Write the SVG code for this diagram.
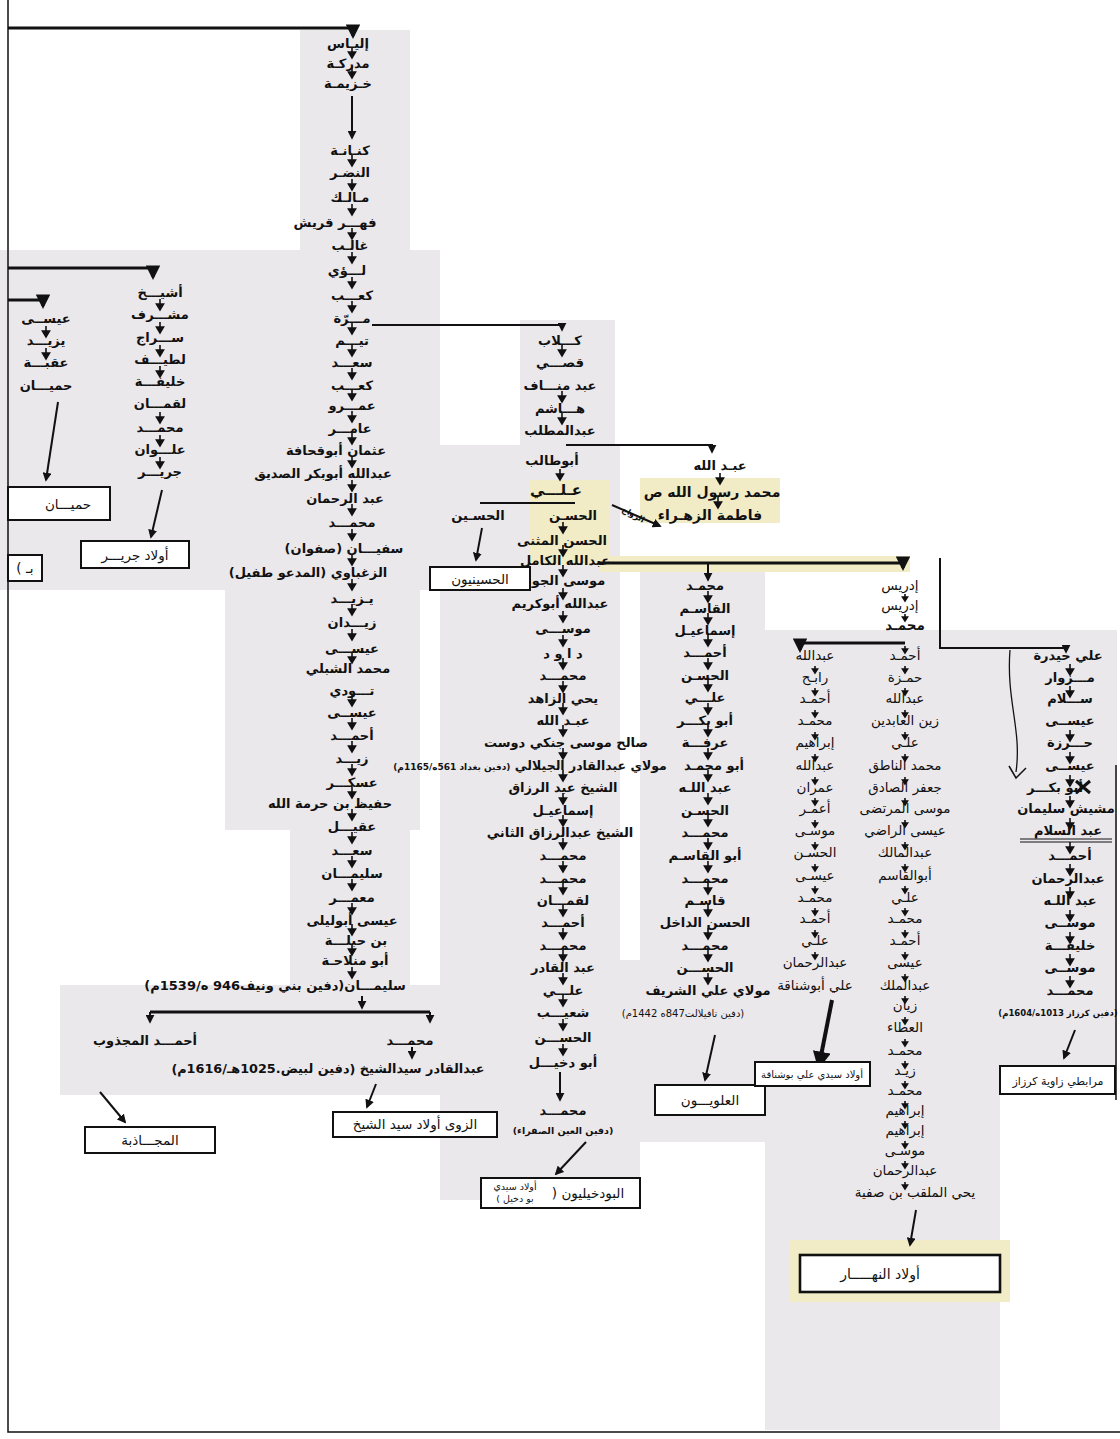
<svg xmlns="http://www.w3.org/2000/svg" xmlns:xlink="http://www.w3.org/1999/xlink" width="1120" height="1439" viewBox="0 0 1120 1439">
<style>
text{font-family:"DejaVu Sans","Noto Sans",sans-serif;fill:#111;text-anchor:middle;direction:rtl}
.b{font-size:13px;font-weight:bold}
.r{font-size:13.5px}
.sm{font-size:9.5px}
.box{fill:#fff;stroke:#111;stroke-width:2}
.ln{fill:none;stroke:#111;stroke-width:2}
.th{fill:none;stroke:#111;stroke-width:3.2}
.pg{fill:#ebe8ec}
.yl{fill:#f1ebc6}
.ch use{fill:#111;stroke:#111;stroke-width:1.6}
</style>
<defs>
<marker id="ah" viewBox="0 0 10 10" refX="8" refY="5" markerWidth="4.5" markerHeight="4.5" orient="auto"><path d="M0 0L10 5L0 10z" fill="#111"/></marker>
<path id="d" d="M0-6V0M-3.5-1L0 5L3.5-1z"/>
<path id="e" d="M0-4V0M-2.5-1L0 3L2.5-1z"/>
</defs>

<g id="paper">
<rect class="pg" x="300" y="30" width="110" height="225"/>
<rect class="pg" x="0" y="250" width="440" height="340"/>
<rect class="pg" x="225" y="590" width="195" height="240"/>
<rect class="pg" x="290" y="830" width="120" height="160"/>
<rect class="pg" x="60" y="985" width="440" height="110"/>
<rect class="pg" x="520" y="320" width="95" height="125"/>
<rect class="pg" x="440" y="445" width="180" height="515"/>
<rect class="pg" x="440" y="960" width="200" height="240"/>
<rect class="yl" x="530" y="480" width="80" height="85"/>
<rect class="yl" x="640" y="478" width="140" height="45"/>
<rect class="yl" x="600" y="556" width="310" height="16"/>
<rect class="pg" x="640" y="572" width="125" height="570"/>
<rect class="pg" x="765" y="630" width="235" height="800"/>
<rect class="pg" x="1000" y="630" width="117" height="440"/>
<rect class="yl" x="790" y="1240" width="220" height="62"/>
</g>

<g id="frame" fill="none" stroke="#111" stroke-width="1.5">
<path d="M8 0V1432H1120"/>
<path d="M1116 765V1100"/>
</g>

<g id="connectors">
<path class="th" d="M8 28H353V36" marker-end="url(#ah)"/>
<path class="ln" d="M352 96V138" marker-end="url(#ah)"/>
<path class="ln" d="M372 325H562V330" marker-end="url(#ah)"/>
<path class="th" d="M8 268H153V277" marker-end="url(#ah)"/>
<path class="th" d="M8 300H43V306" marker-end="url(#ah)"/>
<path class="ln" d="M58 402L46 480" marker-end="url(#ah)"/>
<path class="ln" d="M162 490L151 537" marker-end="url(#ah)"/>
<path class="ln" d="M566 445H712V452" marker-end="url(#ah)"/>
<path class="ln" d="M480 503H575" stroke-width="1.5"/>
<path class="ln" d="M482 528L476 560" marker-end="url(#ah)"/>
<path class="ln" d="M612 505L660 526" stroke-width="1.5" marker-end="url(#ah)"/>
<path class="th" d="M598 563H903V568" marker-end="url(#ah)"/>
<path class="ln" d="M708 563V580" marker-end="url(#ah)"/>
<path class="th" d="M905 643H800V650" marker-end="url(#ah)"/>
<path class="ln" d="M940 558V648H1066V652" stroke-width="1.3" marker-end="url(#ah)"/>
<path d="M1010 650C1006 700 1022 730 1016 772" fill="none" stroke="#111" stroke-width="1.3"/>
<path d="M1009 766L1016 778L1026 768" fill="none" stroke="#111" stroke-width="1.5"/>
<path class="ln" d="M560 1072V1100" marker-end="url(#ah)"/>
<path class="ln" d="M586 1142L556 1174" stroke-width="1.6" marker-end="url(#ah)"/>
<path class="ln" d="M715 1035L705 1080" marker-end="url(#ah)"/>
<path d="M832 1000L819 1066" fill="none" stroke="#111" stroke-width="4" marker-end="url(#ah)"/>
<path class="ln" d="M916 1210L910 1245" stroke-width="2.6" marker-end="url(#ah)"/>
<path class="ln" d="M1075 1030L1064 1058" stroke-width="1.5" marker-end="url(#ah)"/>
<path class="th" d="M150 1012H430"/>
<path class="ln" d="M150 1012V1022" marker-end="url(#ah)"/>
<path class="ln" d="M430 1012V1022" marker-end="url(#ah)"/>
<path class="ln" d="M362 996V1008" marker-end="url(#ah)"/>
<path class="ln" d="M412 1047V1058" marker-end="url(#ah)"/>
<path class="ln" d="M100 1092L125 1122" marker-end="url(#ah)"/>
<path class="ln" d="M376 1084L367 1107" marker-end="url(#ah)"/>
<path d="M1076 781L1090 793M1090 781L1076 793" stroke="#111" stroke-width="3"/>
<path d="M1020 839H1112M1020 842H1112" stroke="#111" stroke-width="1.2"/>
</g>

<g id="chain-arrows" class="ch">
<use href="#d" x="352" y="53"/><use href="#d" x="352" y="73"/>
<use href="#d" x="352" y="161"/><use href="#d" x="352" y="185"/><use href="#d" x="352" y="210"/><use href="#d" x="352" y="234"/><use href="#d" x="352" y="258"/><use href="#d" x="352" y="283"/><use href="#d" x="352" y="307"/><use href="#d" x="352" y="329"/><use href="#d" x="352" y="351"/><use href="#d" x="352" y="374"/><use href="#d" x="352" y="395"/><use href="#d" x="352" y="417"/><use href="#d" x="352" y="439"/><use href="#d" x="352" y="462"/><use href="#d" x="352" y="486"/><use href="#d" x="352" y="510"/><use href="#d" x="352" y="535"/><use href="#d" x="352" y="560"/><use href="#d" x="352" y="585"/><use href="#d" x="352" y="610"/><use href="#d" x="352" y="635"/><use href="#d" x="352" y="658"/><use href="#d" x="352" y="701"/><use href="#d" x="352" y="724"/><use href="#d" x="352" y="747"/><use href="#d" x="352" y="770"/><use href="#d" x="352" y="793"/><use href="#d" x="352" y="815"/><use href="#d" x="352" y="838"/><use href="#d" x="352" y="862"/><use href="#d" x="352" y="885"/><use href="#d" x="352" y="909"/><use href="#d" x="352" y="930"/><use href="#d" x="352" y="950"/><use href="#d" x="352" y="973"/>
<use href="#d" x="46" y="332"/><use href="#d" x="46" y="354"/>
<use href="#d" x="160" y="305"/><use href="#d" x="160" y="328"/><use href="#d" x="160" y="351"/><use href="#d" x="160" y="372"/><use href="#d" x="160" y="418"/><use href="#d" x="160" y="441"/><use href="#d" x="160" y="463"/>
<use href="#d" x="562" y="351"/><use href="#d" x="562" y="397"/><use href="#d" x="562" y="419"/><use href="#d" x="560" y="475"/><use href="#d" x="563" y="528"/><use href="#d" x="563" y="551"/><use href="#d" x="563" y="571"/><use href="#d" x="563" y="594"/><use href="#d" x="563" y="617"/><use href="#d" x="563" y="641"/><use href="#d" x="563" y="664"/><use href="#d" x="563" y="687"/><use href="#d" x="563" y="709"/><use href="#d" x="563" y="731"/><use href="#d" x="563" y="754"/><use href="#d" x="563" y="776"/><use href="#d" x="563" y="799"/><use href="#d" x="563" y="821"/><use href="#d" x="563" y="844"/><use href="#d" x="563" y="867"/><use href="#d" x="563" y="889"/><use href="#d" x="563" y="911"/><use href="#d" x="563" y="934"/><use href="#d" x="563" y="956"/><use href="#d" x="563" y="979"/><use href="#d" x="563" y="1001"/><use href="#d" x="563" y="1025"/><use href="#d" x="563" y="1050"/>
<use href="#d" x="720" y="479"/><use href="#d" x="718" y="503"/>
<use href="#d" x="708" y="597"/><use href="#d" x="708" y="619"/><use href="#d" x="708" y="641"/><use href="#d" x="708" y="664"/><use href="#d" x="708" y="686"/><use href="#d" x="708" y="709"/><use href="#d" x="708" y="731"/><use href="#d" x="708" y="754"/><use href="#d" x="708" y="776"/><use href="#d" x="708" y="799"/><use href="#d" x="708" y="821"/><use href="#d" x="708" y="844"/><use href="#d" x="708" y="867"/><use href="#d" x="708" y="889"/><use href="#d" x="708" y="911"/><use href="#d" x="708" y="934"/><use href="#d" x="708" y="956"/><use href="#d" x="708" y="979"/>
<use href="#e" x="905" y="598"/><use href="#e" x="905" y="618"/><use href="#e" x="905" y="650"/><use href="#e" x="905" y="670"/><use href="#e" x="905" y="692"/><use href="#e" x="905" y="714"/><use href="#e" x="905" y="736"/><use href="#e" x="905" y="758"/><use href="#e" x="905" y="781"/><use href="#e" x="905" y="802"/><use href="#e" x="905" y="824"/><use href="#e" x="905" y="846"/><use href="#e" x="905" y="868"/><use href="#e" x="905" y="890"/><use href="#e" x="905" y="912"/><use href="#e" x="905" y="934"/><use href="#e" x="905" y="956"/><use href="#e" x="905" y="978"/><use href="#e" x="905" y="1000"/><use href="#e" x="905" y="1021"/><use href="#e" x="905" y="1043"/><use href="#e" x="905" y="1065"/><use href="#e" x="905" y="1085"/><use href="#e" x="905" y="1105"/><use href="#e" x="905" y="1125"/><use href="#e" x="905" y="1145"/><use href="#e" x="905" y="1165"/><use href="#e" x="905" y="1186"/>
<use href="#e" x="815" y="670"/><use href="#e" x="815" y="692"/><use href="#e" x="815" y="714"/><use href="#e" x="815" y="736"/><use href="#e" x="815" y="758"/><use href="#e" x="815" y="781"/><use href="#e" x="815" y="802"/><use href="#e" x="815" y="824"/><use href="#e" x="815" y="846"/><use href="#e" x="815" y="868"/><use href="#e" x="815" y="890"/><use href="#e" x="815" y="912"/><use href="#e" x="815" y="934"/><use href="#e" x="815" y="956"/>
<use href="#d" x="1070" y="670"/><use href="#d" x="1070" y="692"/><use href="#d" x="1070" y="736"/><use href="#d" x="1070" y="758"/><use href="#d" x="1070" y="781"/><use href="#d" x="1070" y="802"/><use href="#d" x="1070" y="824"/><use href="#d" x="1070" y="848"/><use href="#d" x="1070" y="870"/><use href="#d" x="1070" y="893"/><use href="#d" x="1070" y="916"/><use href="#d" x="1070" y="938"/><use href="#d" x="1070" y="960"/><use href="#d" x="1070" y="982"/>
</g>

<g id="col-main" class="b">
<text x="348" y="48">إليـاس</text>
<text x="348" y="68">مدركـة</text>
<text x="348" y="88">خـزيمـة</text>
<text x="350" y="155">كنـانـة</text>
<text x="350" y="177">النضـر</text>
<text x="350" y="202">مـالـك</text>
<text x="335" y="227">فهـــر  قريش</text>
<text x="350" y="250">غالـب</text>
<text x="347" y="275">لـــؤي</text>
<text x="352" y="300">كعـــب</text>
<text x="352" y="323">مـــرّة</text>
<text x="352" y="345">تيـــم</text>
<text x="352" y="367">سعـــد</text>
<text x="352" y="390">كعـــب</text>
<text x="352" y="410">عمـــرو</text>
<text x="350" y="433">عامـــر</text>
<text x="336" y="455">عثمان أبوقحافة</text>
<text x="323" y="478">عبدالله أبوبكر الصديق</text>
<text x="345" y="503">عبد الرحمان</text>
<text x="352" y="527">محمـــد</text>
<text x="344" y="553">سفيـــان (صفوان)</text>
<text x="308" y="577">الزغباوي (المدعو طفيل)</text>
<text x="352" y="603">يـزيـــد</text>
<text x="352" y="627">زيـــدان</text>
<text x="352" y="653">عيســـى</text>
<text x="348" y="673">محمد الشبلي</text>
<text x="352" y="695">تـــودي</text>
<text x="352" y="717">عيســى</text>
<text x="352" y="740">أحمـــد</text>
<text x="352" y="763">زيـــد</text>
<text x="352" y="787">عسكـــر</text>
<text x="330" y="808">حفيظ بن حرمة الله</text>
<text x="352" y="831">عقيـــل</text>
<text x="352" y="855">سعـــد</text>
<text x="352" y="878">سليمـــان</text>
<text x="352" y="902">معمـــر</text>
<text x="352" y="925">عيسى أبوليلى</text>
<text x="356" y="945">بن حبلـــة</text>
<text x="355" y="965">أبو منلاحـة</text>
<text x="275" y="990">سليمـــان(دفين بني ونيف946 ه/1539م)</text>
<text x="145" y="1045">أحمـــد المجذوب</text>
<text x="410" y="1045">محمـــد</text>
<text x="328" y="1073" style="font-size:12.8px">عبدالقادر سيدالشيخ (دفين لبيض.1025هـ/1616م)</text>
</g>

<g id="col-left" class="b">
<text x="46" y="323">عيســى</text>
<text x="46" y="345">يزيـــد</text>
<text x="46" y="367">عقبـــة</text>
<text x="46" y="390">حميـــان</text>
<text x="160" y="297">أشيـــخ</text>
<text x="160" y="319">مشـــرف</text>
<text x="160" y="342">ســـراج</text>
<text x="160" y="364">لطيـــف</text>
<text x="160" y="386">خليفـــة</text>
<text x="160" y="408">لقمـــان</text>
<text x="160" y="432">محمـــد</text>
<text x="160" y="454">علـــوان</text>
<text x="160" y="476">جريـــر</text>
</g>

<g id="col-center" class="b">
<text x="560" y="345">كـــلاب</text>
<text x="560" y="367">قصـــي</text>
<text x="560" y="390">عبد منـــاف</text>
<text x="560" y="413">هـــاشم</text>
<text x="560" y="435">عبدالمطلب</text>
<text x="552" y="465">أبوطالب</text>
<text x="556" y="495" style="font-size:15px">عـلـــي</text>
<text x="573" y="520">الحسـن</text>
<text x="478" y="520">الحسـين</text>
<text x="562" y="545">الحسن المثنى</text>
<text x="565" y="565">عبدالله الكامل</text>
<text x="563" y="585">موسى الجون</text>
<text x="560" y="608">عبدالله  أبوكريم</text>
<text x="563" y="633">موســـى</text>
<text x="563" y="658">د ا و د</text>
<text x="563" y="680">محمـــد</text>
<text x="563" y="703">يحي الزاهد</text>
<text x="563" y="725">عبـد الله</text>
<text x="566" y="747">صالح موسى جنكي دوست</text>
<text x="530" y="770" style="font-size:12.5px">مولاي عبدالقادر الجيلالي <tspan style="font-size:9px">(دفين بغداد 561ه/1165م)</tspan></text>
<text x="563" y="792">الشيخ عبد الرزاق</text>
<text x="563" y="815">إسماعيـل</text>
<text x="560" y="837">الشيخ عبدالرزاق الثاني</text>
<text x="563" y="860">محمـــد</text>
<text x="563" y="883">محمـــد</text>
<text x="563" y="905">لقمـــان</text>
<text x="563" y="927">أحمـــد</text>
<text x="563" y="950">محمـــد</text>
<text x="563" y="972">عبد القادر</text>
<text x="563" y="995">علـــي</text>
<text x="563" y="1017">شعيـــب</text>
<text x="563" y="1042">الحســـن</text>
<text x="563" y="1067">أبو دخيـــل</text>
<text x="563" y="1115">محمـــد</text>
<text x="563" y="1134" class="sm">(دفين العين الصفراء)</text>
<text x="720" y="470">عبـد الله</text>
<text x="712" y="497" style="font-size:14px">محمد رسول الله ص</text>
<text x="710" y="520" style="font-size:14px">فاطمة الزهـراء</text>
<text x="632" y="517" class="sm" transform="rotate(28 632 517)" style="font-size:8px">الزواج</text>
</g>

<g id="col-alawi" class="b">
<text x="705" y="590">محمـد</text>
<text x="705" y="613">القاسـم</text>
<text x="705" y="635">إسماعيـل</text>
<text x="705" y="657">أحمـــد</text>
<text x="705" y="680">الحسـن</text>
<text x="705" y="702">علـــي</text>
<text x="705" y="725">أبو بكـــر</text>
<text x="705" y="747">عرفـــة</text>
<text x="714" y="770">أبو محمـد</text>
<text x="705" y="792">عبد اللـه</text>
<text x="705" y="815">الحسـن</text>
<text x="705" y="837">محمـــد</text>
<text x="705" y="860">أبو القاسـم</text>
<text x="705" y="883">محمـــد</text>
<text x="705" y="905">قاسـم</text>
<text x="705" y="927">الحسن الداخل</text>
<text x="705" y="950">محمـــد</text>
<text x="705" y="972">الحســـن</text>
<text x="708" y="995">مولاي علي الشريف</text>
<text x="683" y="1017" style="font-size:10px;font-weight:normal">(دفين تافيلالت847ه 1442م)</text>
</g>

<g id="col-idrisi" class="r">
<text x="900" y="590">إدريس</text>
<text x="900" y="610">إدريس</text>
<text x="905" y="630" style="font-weight:bold">محمـد</text>
<text x="905" y="660">أحمـد</text>
<text x="905" y="682">حمـزة</text>
<text x="905" y="703">عبدالله</text>
<text x="905" y="725">زين العابدين</text>
<text x="905" y="747">علـي</text>
<text x="905" y="770">محمد الناطق</text>
<text x="905" y="792">جعفر الصادق</text>
<text x="905" y="813">موسى المرتضى</text>
<text x="905" y="835">عيسى الراضي</text>
<text x="905" y="857">عبدالمالك</text>
<text x="905" y="880">أبوالقاسم</text>
<text x="905" y="902">علـي</text>
<text x="905" y="923">محمـد</text>
<text x="905" y="945">أحمـد</text>
<text x="905" y="967">عيسى</text>
<text x="905" y="990">عبدالملك</text>
<text x="905" y="1010">زيان</text>
<text x="905" y="1032">العطاء</text>
<text x="905" y="1055">محمـد</text>
<text x="905" y="1075">زيـد</text>
<text x="905" y="1095">محمـد</text>
<text x="905" y="1115">إبراهيم</text>
<text x="905" y="1135">إبراهيم</text>
<text x="905" y="1155">موسـى</text>
<text x="905" y="1175">عبدالرحمان</text>
<text x="915" y="1197">يحي الملقب بن صفية</text>
<text x="815" y="660">عبدالله</text>
<text x="815" y="682">رابـح</text>
<text x="815" y="703">أحمـد</text>
<text x="815" y="725">محمـد</text>
<text x="815" y="747">إبراهيم</text>
<text x="815" y="770">عبدالله</text>
<text x="815" y="792">عمران</text>
<text x="815" y="813">أعمـر</text>
<text x="815" y="835">موسـى</text>
<text x="815" y="857">الحسـن</text>
<text x="815" y="880">عيسـى</text>
<text x="815" y="902">محمـد</text>
<text x="815" y="923">أحمـد</text>
<text x="815" y="945">علـي</text>
<text x="815" y="967">عبدالرحمان</text>
<text x="815" y="990">علي أبوشناقة</text>
</g>

<g id="col-right" class="b">
<text x="1068" y="660">علي حيدرة</text>
<text x="1070" y="682">مـــزوار</text>
<text x="1070" y="703">ســـلام</text>
<text x="1070" y="725">عيســى</text>
<text x="1070" y="747">حـــرزة</text>
<text x="1070" y="770">عيســى</text>
<text x="1055" y="792">أبو بكـــر</text>
<text x="1066" y="813">مشيش سليمان</text>
<text x="1068" y="835">عبد السلام</text>
<text x="1070" y="860">أحمـــد</text>
<text x="1068" y="883">عبدالرحمان</text>
<text x="1070" y="905">عبد اللـه</text>
<text x="1070" y="927">موســى</text>
<text x="1070" y="950">خليفـــة</text>
<text x="1070" y="972">موســى</text>
<text x="1070" y="995">محمـــد</text>
<text x="1058" y="1016" style="font-size:8.5px;font-weight:bold">(دفين كرزاز 1013ه/1604م)</text>
</g>

<g id="box-hamyan"><rect class="box" x="8" y="487" width="102" height="33"/><text x="68" y="509" class="r">حميـــان</text></g>
<g id="box-b"><rect class="box" x="8" y="555" width="34" height="26"/><text x="25" y="573" class="r">بـ )</text></g>
<g id="box-jarir"><rect class="box" x="81" y="541" width="108" height="27"/><text x="135" y="560" class="r">أولاد جريـــر</text></g>
<g id="box-husayni"><rect class="box" x="430" y="567" width="100" height="23"/><text x="480" y="584" class="r">الحسينيون</text></g>
<g id="box-majadhiba"><rect class="box" x="85" y="1127" width="130" height="26"/><text x="150" y="1145" class="r">المجـــاذبة</text></g>
<g id="box-zuwa"><rect class="box" x="333" y="1112" width="164" height="25"/><text x="415" y="1129" class="r">الزوى أولاد سيد الشيخ</text></g>
<g id="box-budkhili"><rect class="box" x="481" y="1178" width="159" height="30"/><text x="588" y="1198" class="r">البودخيليون (</text><text x="515" y="1190" class="sm">أولاد سيدي</text><text x="515" y="1202" class="sm">بو دخيل )</text></g>
<g id="box-alawi"><rect class="box" x="655" y="1085" width="110" height="30"/><text x="710" y="1105" class="r">العلويـــون</text></g>
<g id="box-bushnaqa"><rect class="box" x="755" y="1062" width="115" height="24"/><text x="812" y="1078" style="font-size:10px">أولاد سيدي علي بوشناقة</text></g>
<g id="box-nahar"><rect class="box" x="800" y="1255" width="200" height="37" style="stroke-width:2.6"/><text x="880" y="1279" class="r" style="font-size:14px">أولاد النهـــــار</text></g>
<g id="box-kerzaz"><rect class="box" x="1000" y="1066" width="115" height="28"/><text x="1058" y="1085" style="font-size:11px">مرابطي زاوية كرزاز</text></g>
</svg>
